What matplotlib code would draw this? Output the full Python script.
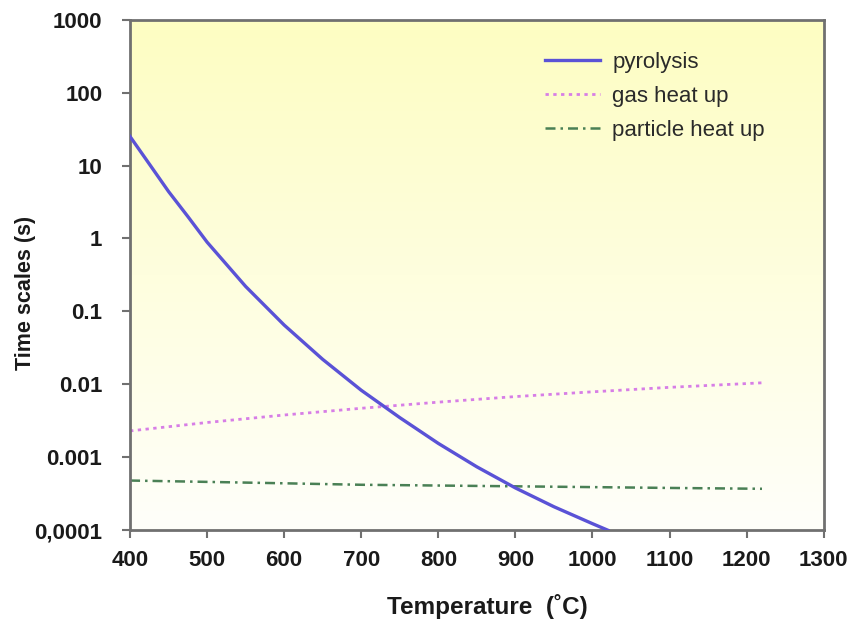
import numpy as np
import matplotlib
matplotlib.use("Agg")
import matplotlib.pyplot as plt
from matplotlib.colors import LinearSegmentedColormap

plt.rcParams['font.family'] = ['Liberation Sans', 'DejaVu Sans']

# Data
pyro_T = [400, 425, 450, 475, 500, 550, 600, 650, 700, 750, 800, 850, 900,
          950, 1000, 1020]
pyro_t = [25, 10.5, 4.4, 2.0, 0.89, 0.22, 0.065, 0.022, 0.0083, 0.0035,
          0.00155, 0.00074, 0.00038, 0.00021, 0.000123, 0.0001]

gas_T = [400, 500, 600, 700, 800, 900, 1000, 1100, 1220]
gas_t = [0.0023, 0.0030, 0.0038, 0.0047, 0.0057, 0.0068, 0.0079, 0.0091, 0.0105]

part_T = [400, 500, 600, 700, 800, 900, 1000, 1100, 1220]
part_t = [0.00048, 0.00046, 0.00044, 0.00042, 0.00041, 0.00040, 0.00039,
          0.00038, 0.00037]

x_ticks = [400, 500, 600, 700, 800, 900, 1000, 1100, 1200, 1300]
y_ticks = [1e-4, 1e-3, 1e-2, 1e-1, 1, 10, 100, 1000]
y_labels = ['0,0001', '0.001', '0.01', '0.1', '1', '10', '100', '1000']

fig = plt.figure(figsize=(8.5, 6.35), dpi=100)
ax = fig.add_axes([0.153, 0.165, 0.816, 0.804])

# gradient background
cmap = LinearSegmentedColormap.from_list('bg', ['#fffffa', '#fdfdc2'])
grad = np.linspace(0, 1, 256).reshape(-1, 1)
ax.imshow(grad, extent=[0, 1, 0, 1], transform=ax.transAxes, cmap=cmap,
          aspect='auto', origin='lower', zorder=0)

ax.plot(pyro_T, pyro_t, color='#5a52d6', lw=2.4, label='pyrolysis', zorder=3,
        solid_joinstyle='round')
ax.plot(gas_T, gas_t, color='#d77ee6', lw=2.0, ls=(0, (1.2, 1.6)),
        label='gas heat up', zorder=2)
ax.plot(part_T, part_t, color='#4a8055', lw=1.8, ls=(0, (4, 2, 1, 2)),
        label='particle heat up', zorder=2)

ax.set_yscale('log')
ax.set_xlim(400, 1300)
ax.set_ylim(1e-4, 1000)
ax.set_xticks(x_ticks)
ax.set_xticklabels([str(v) for v in x_ticks])
ax.set_yticks(y_ticks)
ax.set_yticklabels(y_labels)
ax.minorticks_off()

for s in ax.spines.values():
    s.set_color('#707070')
    s.set_linewidth(2)
ax.tick_params(axis='both', direction='out', length=6, width=1.5,
               color='#707070', labelsize=16)
ax.tick_params(axis='x', pad=8)
ax.tick_params(axis='y', pad=14)
for lab in ax.get_xticklabels() + ax.get_yticklabels():
    lab.set_fontweight('bold')
    lab.set_color('#1a1a1a')

ax.set_xlabel('Temperature  (˚C)', fontsize=17.5, fontweight='bold',
              color='#1a1a1a')
ax.xaxis.set_label_coords(0.515, -0.125)
ax.set_ylabel('Time scales (s)', fontsize=15.5, fontweight='bold',
              color='#1a1a1a')
ax.yaxis.set_label_coords(-0.135, 0.465)

leg = ax.legend(loc='upper left', bbox_to_anchor=(0.585, 0.955),
                frameon=False, fontsize=16, handlelength=2.5,
                labelspacing=0.6, handletextpad=0.55, borderaxespad=0)
for t in leg.get_texts():
    t.set_color('#2a2a2a')

fig.savefig('out.png', dpi=100)
